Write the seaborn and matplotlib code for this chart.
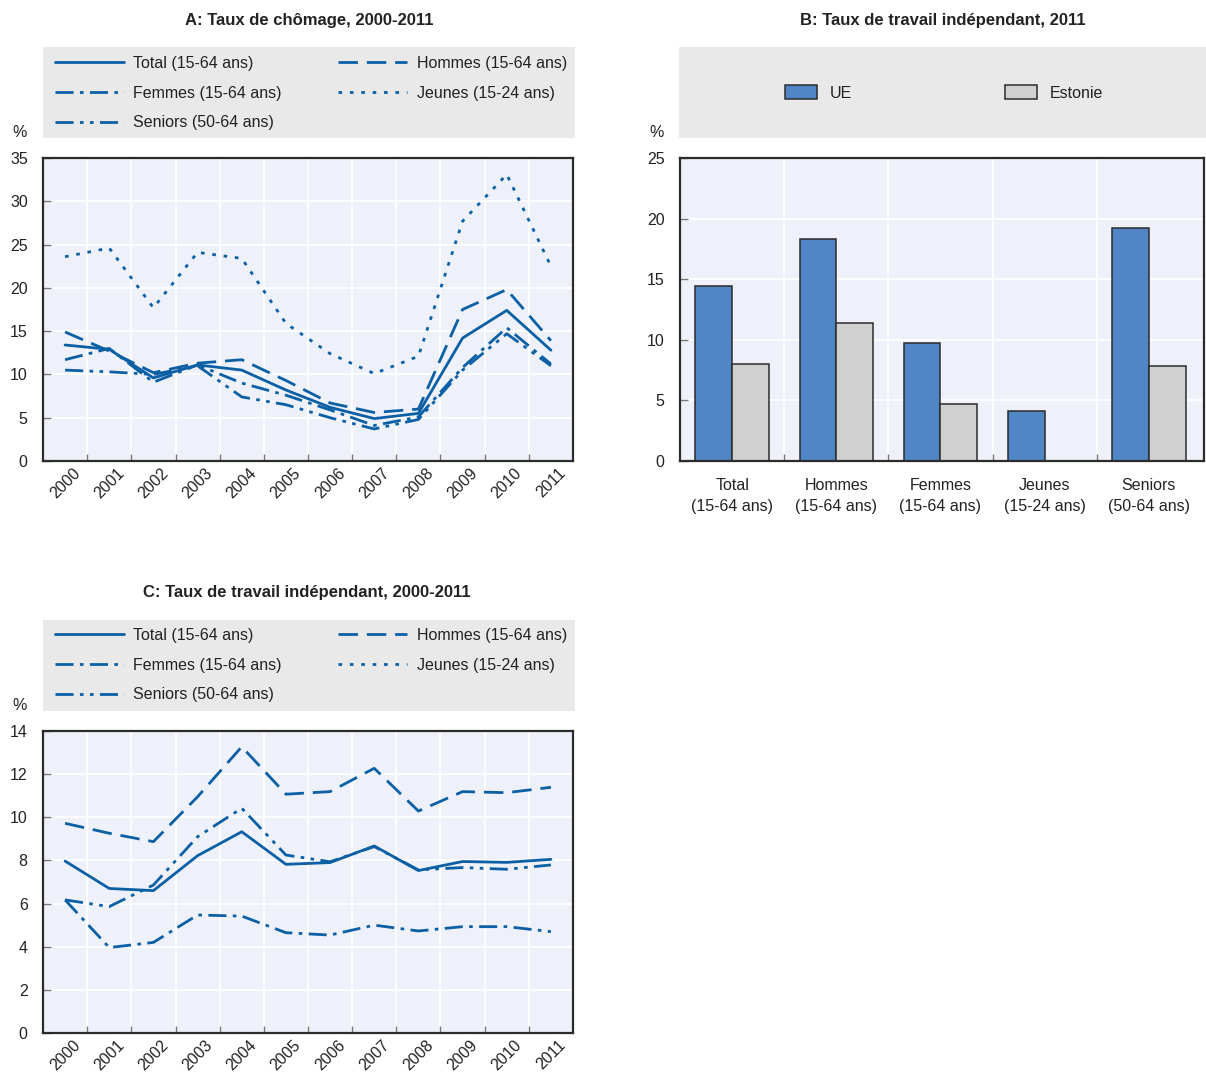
import numpy as np
import pandas as pd
import matplotlib
matplotlib.use("Agg")
import matplotlib.pyplot as plt
import seaborn as sns
from matplotlib import font_manager as fm
from matplotlib.lines import Line2D
from matplotlib.patches import Rectangle, Patch

# ---------------- data ----------------
years = [str(y) for y in range(2000, 2012)]
series_names = ["Total (15-64 ans)", "Hommes (15-64 ans)", "Femmes (15-64 ans)",
                "Jeunes (15-24 ans)", "Seniors (50-64 ans)"]

# Panel A: unemployment rate (%)
unemp_total = [13.4, 12.9, 9.6, 11.1, 10.5, 8.2, 6.2, 4.9, 5.5, 14.2, 17.4, 12.8]
unemp_hommes = [14.9, 12.7, 10.2, 11.3, 11.7, 9.3, 6.7, 5.6, 6.0, 17.5, 19.8, 13.9]
unemp_femmes = [11.7, 13.0, 9.1, 11.1, 9.0, 7.6, 5.9, 4.1, 5.1, 10.8, 15.4, 11.2]
unemp_jeunes = [23.6, 24.6, 17.7, 24.1, 23.4, 15.9, 12.4, 10.1, 12.1, 27.7, 33.1, 22.5]
unemp_seniors = [10.5, 10.3, 10.0, 11.0, 7.4, 6.5, 5.0, 3.7, 4.8, 10.5, 14.7, 11.0]

# Panel B: self-employment rate 2011 (%)
b_categories = ["Total\n(15-64 ans)", "Hommes\n(15-64 ans)", "Femmes\n(15-64 ans)",
                "Jeunes\n(15-24 ans)", "Seniors\n(50-64 ans)"]
b_groups = ["UE", "Estonie"]
b_ue = [14.4, 18.3, 9.7, 4.1, 19.2]
b_estonie = [8.0, 11.4, 4.7, np.nan, 7.8]

# Panel C: self-employment rate (%)
self_total = [7.97, 6.70, 6.60, 8.22, 9.33, 7.82, 7.90, 8.67, 7.53, 7.95, 7.91, 8.05]
self_hommes = [9.72, 9.26, 8.87, 10.95, 13.27, 11.07, 11.19, 12.27, 10.29, 11.19, 11.14, 11.39]
self_femmes = [6.17, 3.96, 4.20, 5.47, 5.42, 4.65, 4.54, 5.00, 4.73, 4.93, 4.93, 4.70]
self_seniors = [6.17, 5.86, 6.86, 9.10, 10.42, 8.25, 7.94, 8.64, 7.56, 7.67, 7.59, 7.79]

titles = ["A: Taux de chômage, 2000-2011",
          "B: Taux de travail indépendant, 2011",
          "C: Taux de travail indépendant, 2000-2011"]

# ---------------- style ----------------
W, H = 1206, 1083
BLUE = "#0b5fa5"
UE_COL = "#5086c6"
EST_COL = "#cfd0cf"
BG = "#eef1f9"
LEG_BG = "#e9e9e9"
LW = 2.0

sns.set_theme(style="white")
names = {f.name for f in fm.fontManager.ttflist}
base = "Liberation Sans Narrow" if "Liberation Sans Narrow" in names else "Liberation Sans"
FS = 12 if base == "Liberation Sans Narrow" else 11.5
TFS = 12
plt.rcParams["font.family"] = [base, "DejaVu Sans"]
plt.rcParams["text.color"] = "#222222"

dash_map = {
    series_names[0]: "",
    series_names[1]: (7.0, 3.2),
    series_names[2]: (6.5, 2.3, 1.3, 2.3),
    series_names[3]: (1.3, 2.8),
    series_names[4]: (6.5, 2.3, 1.3, 2.3, 1.3, 2.3),
}

fig = plt.figure(figsize=(W / 100, H / 100), dpi=100)


def fx(px):
    return px / W


def fy(py):
    return 1 - py / H


def style_axes(ax, nx):
    ax.set_facecolor(BG)
    for s in ax.spines.values():
        s.set_visible(True)
        s.set_color("#2b2b2b")
        s.set_linewidth(1.6)
    ax.set_xticks(np.arange(nx))
    ax.set_xticks(np.arange(nx - 1) + 0.5, minor=True)
    ax.grid(False)
    ax.yaxis.grid(True, which="major", color="white", lw=1.3)
    ax.xaxis.grid(True, which="minor", color="white", lw=1.3)
    ax.set_axisbelow(True)
    ax.tick_params(axis="y", direction="in", length=6, width=1, color="#777777",
                   pad=11, labelsize=FS, labelcolor="#222222", left=True)
    ax.tick_params(axis="x", which="minor", direction="in", length=5, width=1,
                   color="#777777", bottom=True)
    ax.tick_params(axis="x", which="major", length=0, labelsize=FS, labelcolor="#222222")
    ax.set_xlabel("")
    ax.set_ylabel("")


def line_panel(rect, values, order, ymax, ystep):
    ax = fig.add_axes(rect)
    rows = []
    for name, vals in zip(order, values):
        for i, v in enumerate(vals):
            rows.append({"pos": i, "value": v, "serie": name})
    df = pd.DataFrame(rows)
    sns.lineplot(data=df, x="pos", y="value", style="serie", style_order=order,
                 dashes={k: dash_map[k] for k in order}, color=BLUE, linewidth=LW,
                 estimator=None, sort=False, legend=False, ax=ax)
    style_axes(ax, len(years))
    ax.set_xlim(-0.5, len(years) - 0.5)
    ax.set_ylim(0, ymax)
    ax.set_yticks(np.arange(0, ymax + 0.1, ystep))
    ax.set_xticklabels(years, rotation=45, ha="center")
    ax.tick_params(axis="x", which="major", pad=3)
    return ax


def line_legend(ax, top_px, box_top_px):
    fig.add_artist(Rectangle((fx(43), fy(box_top_px + 91)), fx(532), 91 / H,
                             transform=fig.transFigure, fc=LEG_BG, ec="none", zorder=0))
    leg_order = [0, 2, 4, 1, 3]
    handles = []
    labels = []
    for k in leg_order:
        n = series_names[k]
        d = dash_map[n]
        ls = "-" if d == "" else (0, d)
        handles.append(Line2D([], [], color=BLUE, lw=LW, linestyle=ls))
        labels.append(n)
    ax.legend(handles, labels, ncol=2, loc="upper left",
              bbox_to_anchor=(fx(55), fy(top_px), fx(512), 0),
              bbox_transform=fig.transFigure, mode="expand", frameon=False,
              handlelength=4.3, handletextpad=0.6, labelspacing=0.92,
              borderaxespad=0, borderpad=0, fontsize=FS)


# ---- Panel A ----
axA = line_panel([fx(43), fy(461), fx(530), 303 / H],
                 [unemp_total, unemp_hommes, unemp_femmes, unemp_jeunes, unemp_seniors],
                 series_names, 35, 5)
line_legend(axA, 56, 47)

# ---- Panel C ----
order_c = [series_names[0], series_names[1], series_names[2], series_names[4]]
axC = line_panel([fx(43), fy(1033), fx(530), 302 / H],
                 [self_total, self_hommes, self_femmes, self_seniors],
                 order_c, 14, 2)
line_legend(axC, 628, 620)

# ---- Panel B ----
axB = fig.add_axes([fx(680), fy(461), fx(524), 303 / H])
dfb = pd.DataFrame({
    "cat": b_categories * 2,
    "group": [b_groups[0]] * len(b_categories) + [b_groups[1]] * len(b_categories),
    "value": b_ue + b_estonie,
})
sns.barplot(data=dfb, x="cat", y="value", hue="group", order=b_categories,
            hue_order=b_groups, palette=[UE_COL, EST_COL], width=0.705, gap=0,
            edgecolor="#2b2b2b", linewidth=1.1, saturation=1, legend=False, ax=axB)
style_axes(axB, len(b_categories))
axB.set_xlim(-0.5, len(b_categories) - 0.47)
axB.set_ylim(0, 25)
axB.set_yticks(np.arange(0, 26, 5))
axB.set_xticklabels(b_categories, ha="center", va="top", linespacing=1.5)
axB.tick_params(axis="x", which="major", pad=12)

fig.add_artist(Rectangle((fx(679), fy(138)), fx(527), 91 / H,
                         transform=fig.transFigure, fc=LEG_BG, ec="none", zorder=0))
axB.legend([Patch(fc=UE_COL, ec="#2b2b2b", lw=1.1), Patch(fc=EST_COL, ec="#2b2b2b", lw=1.1)],
           b_groups, ncol=2, loc="center", bbox_to_anchor=(fx(944), fy(93)),
           bbox_transform=fig.transFigure, frameon=False, handlelength=2.0,
           handleheight=0.9, handletextpad=0.8, columnspacing=9.6, fontsize=FS)

# ---- titles and % labels ----
fig.text(fx(309), fy(20), titles[0], ha="center", va="center", fontsize=TFS, fontweight="bold")
fig.text(fx(943), fy(20), titles[1], ha="center", va="center", fontsize=TFS, fontweight="bold")
fig.text(fx(307), fy(592), titles[2], ha="center", va="center", fontsize=TFS, fontweight="bold")
for (x, y) in [(20, 133), (657, 133), (20, 706)]:
    fig.text(fx(x), fy(y), "%", ha="center", va="center", fontsize=FS)

fig.savefig("out.png", dpi=100, facecolor="white")
